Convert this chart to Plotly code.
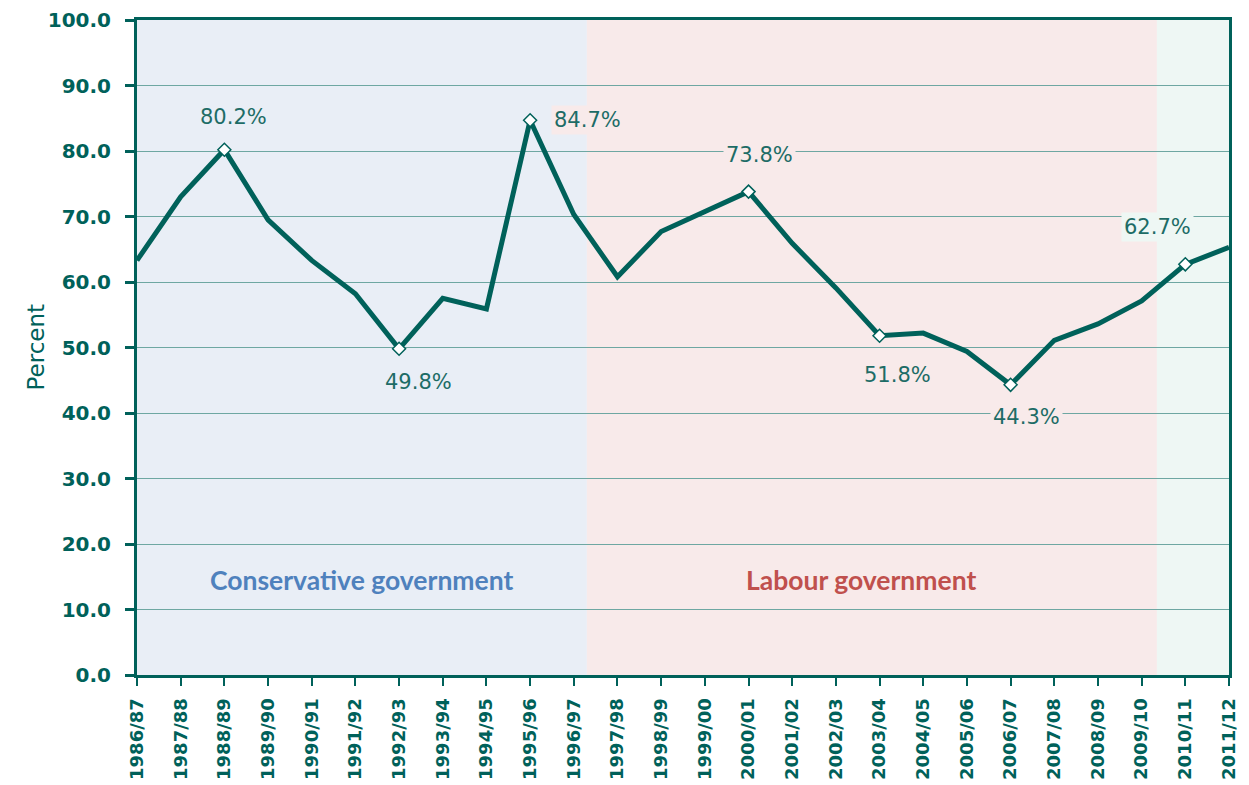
import plotly.graph_objects as go

# ── Data ─────────────────────────────────────────────────────────────────
YEARS = [
    "1986/87", "1987/88", "1988/89", "1989/90", "1990/91", "1991/92", "1992/93",
    "1993/94", "1994/95", "1995/96", "1996/97", "1997/98", "1998/99", "1999/00",
    "2000/01", "2001/02", "2002/03", "2003/04", "2004/05", "2005/06", "2006/07",
    "2007/08", "2008/09", "2009/10", "2010/11", "2011/12",
]
PERCENT = [
    63.3, 73.0, 80.2, 69.5, 63.3, 58.2, 49.8,
    57.5, 55.9, 84.7, 70.3, 60.8, 67.7, 70.8,
    73.8, 65.9, 59.1, 51.8, 52.2, 49.4, 44.3,
    51.1, 53.6, 57.1, 62.7, 65.3,
]
LABELLED = ["1988/89", "1992/93", "1995/96", "2000/01", "2003/04", "2006/07", "2010/11"]
Y_TICKS = [0, 10, 20, 30, 40, 50, 60, 70, 80, 90, 100]

# government periods, in category-index units
CON_END = 10.3
LAB_END = 23.35

# ── Style ────────────────────────────────────────────────────────────────
TEAL_DARK = "#00615a"
TEAL_TEXT = "#1d6c66"
GRID = "#6ea7a2"
BLUE_BG = "#e9eef6"
PINK_BG = "#f8eaea"
GREEN_BG = "#eef7f4"
FONT = "DejaVu Sans"

# the page body has an 8px margin, so the figure is shrunk by that much
PAGE_PAD = 8

x_idx = list(range(len(YEARS)))

fig = go.Figure()

# shaded government bands
bands = [(0, CON_END, BLUE_BG), (CON_END, LAB_END, PINK_BG), (LAB_END, len(YEARS) - 1, GREEN_BG)]
for x0, x1, col in bands:
    fig.add_shape(type="rect", xref="x", yref="y", x0=x0, x1=x1, y0=0, y1=100,
                  fillcolor=col, line_width=0, layer="below")

fig.add_trace(go.Scatter(
    x=x_idx, y=PERCENT, mode="lines",
    line=dict(color=TEAL_DARK, width=5),
    hoverinfo="skip", showlegend=False,
))

lab_x = [YEARS.index(y) for y in LABELLED]
lab_v = [PERCENT[i] for i in lab_x]
fig.add_trace(go.Scatter(
    x=lab_x, y=lab_v, mode="markers",
    marker=dict(symbol="diamond", size=10, color="white",
                line=dict(color=TEAL_DARK, width=1.5)),
    hoverinfo="skip", showlegend=False,
))

# data labels: (xshift, yshift) in px relative to the point
offsets = {
    "1988/89": (9, 33),
    "1992/93": (19, -33),
    "1995/96": (57, 0),
    "2000/01": (11, 37),
    "2003/04": (18, -39),
    "2006/07": (16, -32),
    "2010/11": (-28, 37),
}

def band_colour(x):
    if x < CON_END:
        return BLUE_BG
    if x < LAB_END:
        return PINK_BG
    return GREEN_BG

for xi, v, name in zip(lab_x, lab_v, LABELLED):
    dx, dy = offsets[name]
    fig.add_annotation(
        x=xi, y=v, xref="x", yref="y", text=f"{v:.1f}%", showarrow=False,
        xshift=dx, yshift=dy, font=dict(family=FONT, size=21, color=TEAL_TEXT),
        bgcolor=band_colour(xi + dx / 43.7), borderpad=2,
    )

fig.add_annotation(x=CON_END / 2, y=14.5, xref="x", yref="y",
                   text="<b>Conservative government</b>", showarrow=False,
                   font=dict(family="Lato", size=26.5, color="#4f81bd"))
fig.add_annotation(x=(CON_END + LAB_END) / 2 - 0.26, y=14.5, xref="x", yref="y",
                   text="<b>Labour government</b>", showarrow=False,
                   font=dict(family="Lato", size=26.5, color="#c0504d"))

fig.add_annotation(x=0, y=0.5, xref="paper", yref="paper", xshift=-117,
                   text="Percent", textangle=-90, showarrow=False,
                   font=dict(family=FONT, size=23, color=TEAL_DARK))

fig.update_xaxes(
    range=[0, len(YEARS) - 1],
    tickvals=x_idx, ticktext=YEARS, tickangle=-90,
    ticks="outside", ticklen=8, tickwidth=2, tickcolor=TEAL_DARK,
    ticklabelstandoff=5,
    tickfont=dict(family=FONT, size=18, color=TEAL_DARK, weight="bold"),
    showline=True, linecolor=TEAL_DARK, linewidth=3, mirror=True,
    showgrid=False, zeroline=False,
)
fig.update_yaxes(
    range=[0, 100], tickvals=Y_TICKS, tickformat=".1f",
    ticks="outside", ticklen=9, tickwidth=3, tickcolor=TEAL_DARK,
    ticklabelstandoff=10,
    tickfont=dict(family=FONT, size=20, color=TEAL_DARK, weight="bold"),
    showline=True, linecolor=TEAL_DARK, linewidth=3, mirror=True,
    showgrid=True, gridcolor=GRID, gridwidth=1.2, zeroline=False,
)

fig.update_layout(
    width=1249 - PAGE_PAD, height=785 - PAGE_PAD,
    margin=dict(l=137 - PAGE_PAD, r=20, t=20 - PAGE_PAD, b=110, autoexpand=False),
    paper_bgcolor="white", plot_bgcolor="white",
    showlegend=False,
)

fig.write_html("out.html")
